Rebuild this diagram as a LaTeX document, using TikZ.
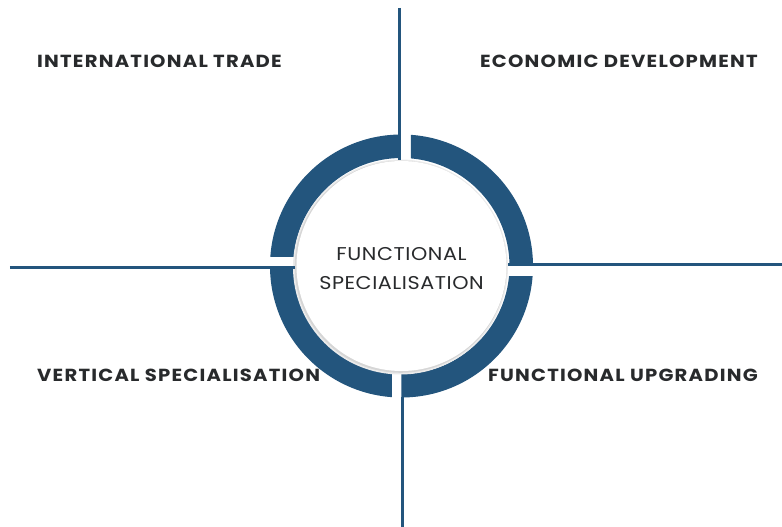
\documentclass[tikz,border=0pt]{standalone}
\usepackage{fontspec}
\setmainfont{Poppins}
\newfontfamily\topicfont[LetterSpace=7, FakeStretch=1.12]{Poppins}
\newfontfamily\corefont[LetterSpace=3, FakeStretch=1.12]{Poppins}
\usetikzlibrary{positioning}
\definecolor{ringblue}{RGB}{35,85,125}
\definecolor{inkgray}{RGB}{40,42,44}

\begin{document}
\begin{tikzpicture}[x=1pt, y=1pt,
    topic/.style={font=\topicfont\bfseries\fontsize{17.5}{20}\selectfont, text=inkgray, inner sep=0pt},
    axis/.style={ringblue, line width=3pt}]
    \useasboundingbox (-401.5,-261) rectangle (380.5,266);

    % Ring, cut into four shifted quarters
    \foreach \xa/\ya/\xb/\yb in {-140/9/-3.5/140, 9.5/0.5/140/140, 0/-140/140/-11, -140/-140/-9.5/-2} {
        \begin{scope}
            \clip (\xa,\ya) rectangle (\xb,\yb);
            \fill[ringblue, even odd rule] (0,0) circle (131.5pt) (0,0) circle (108pt);
        \end{scope}
    }

    % Inner disk with a soft rim
    \fill[black!8] (-1,-1) circle (107.5pt);
    \fill[black!16] (-0.8,-0.8) circle (106pt);
    \fill[white] (0,0) circle (105pt);
    \node[font=\corefont\fontsize{18.5}{29}\selectfont, text=inkgray, align=center] (core) at (0,-3)
        {FUNCTIONAL\\SPECIALISATION};

    % Axes
    \coordinate (north-a) at (-1.5,258);  \coordinate (north-b) at (-1.5,106);
    \coordinate (east-a)  at (106.5,1);   \coordinate (east-b)  at (380.5,1);
    \coordinate (south-a) at (1.5,-131);  \coordinate (south-b) at (1.5,-261);
    \coordinate (west-a)  at (-391.5,-2); \coordinate (west-b)  at (-106.5,-2);
    \draw[axis] (north-a) -- (north-b);
    \draw[axis] (east-a) -- (east-b);
    \draw[axis] (south-a) -- (south-b);
    \draw[axis] (west-a) -- (west-b);

    % Topics
    \node[topic, anchor=west] (trade) at (-364.5,205) {INTERNATIONAL TRADE};
    \node[topic, anchor=east] (develop) at (356.5,205) {ECONOMIC DEVELOPMENT};
    \node[topic, anchor=west] (vertical) at (-364.5,-109.5) {VERTICAL SPECIALISATION};
    \node[topic, anchor=east] (upgrade) at (356.5,-109.5) {FUNCTIONAL UPGRADING};
\end{tikzpicture}
\end{document}
